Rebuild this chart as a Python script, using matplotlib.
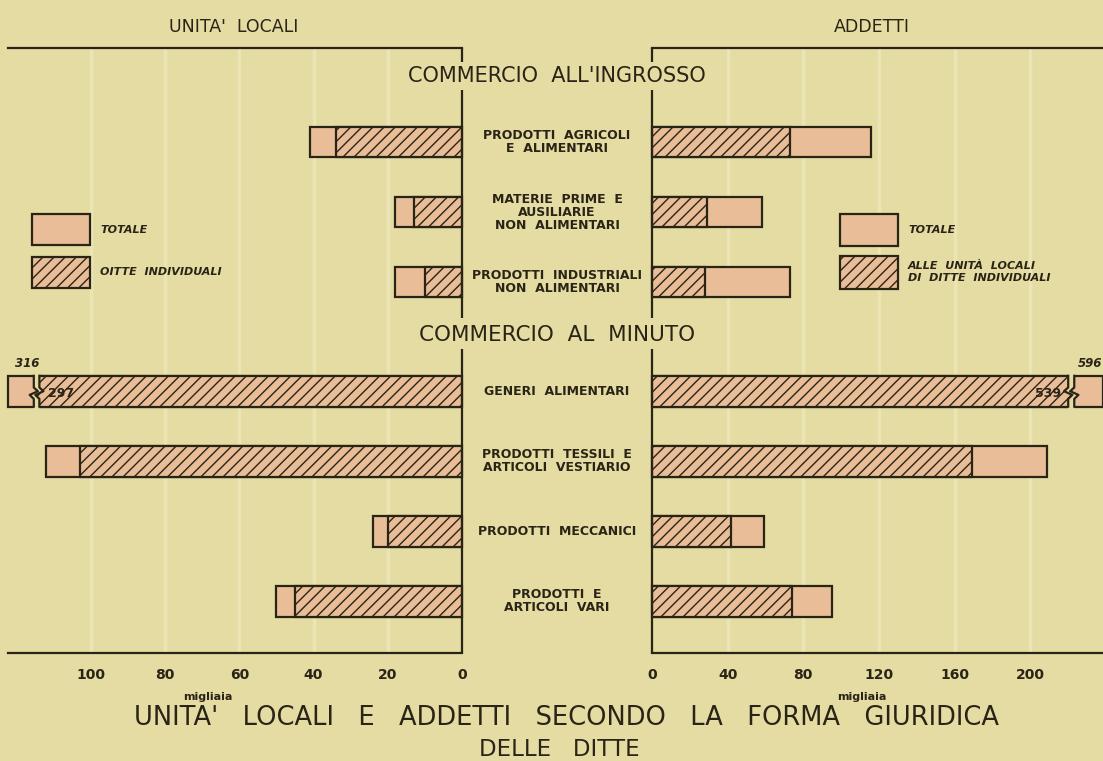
import matplotlib
matplotlib.use("Agg")
import matplotlib.pyplot as plt
import matplotlib.transforms as mtransforms
from matplotlib.patches import Rectangle, Polygon
import numpy as np

# ---------------- data ----------------
categories = [
    "PRODOTTI  AGRICOLI\nE  ALIMENTARI",
    "MATERIE  PRIME  E\nAUSILIARIE\nNON  ALIMENTARI",
    "PRODOTTI  INDUSTRIALI\nNON  ALIMENTARI",
    "GENERI  ALIMENTARI",
    "PRODOTTI  TESSILI  E\nARTICOLI  VESTIARIO",
    "PRODOTTI  MECCANICI",
    "PRODOTTI  E\nARTICOLI  VARI",
]
section = [0, 0, 0, 1, 1, 1, 1]
section_titles = ["COMMERCIO  ALL'INGROSSO", "COMMERCIO  AL  MINUTO"]

# Unita' locali (migliaia)
ul_totale = [41, 18, 18, 316, 112, 24, 50]
ul_individuali = [34, 13, 10, 297, 103, 20, 45]
# Addetti (migliaia)
add_totale = [116, 58, 73, 596, 209, 59, 95]
add_individuali = [73, 29, 28, 539, 169, 42, 74]

ul_ticks = [0, 20, 40, 60, 80, 100]
add_ticks = [0, 40, 80, 120, 160, 200]

# ---------------- style ----------------
BG = "#e4dca3"
FILL = "#e8bd97"
INK = "#2a2416"
LW = 1.6
plt.rcParams["hatch.linewidth"] = 1.0
plt.rcParams["hatch.color"] = INK
plt.rcParams["font.family"] = ["DejaVu Sans"]

W, H = 1103, 761
fig = plt.figure(figsize=(W / 100, H / 100), dpi=100, facecolor=BG)


def fx(px):
    return px / W


def fy(py):
    return 1 - py / H


TOP, BOT = 48, 653
axL = fig.add_axes([fx(8), fy(BOT), fx(462 - 8), (BOT - TOP) / H])
axR = fig.add_axes([fx(652), fy(BOT), fx(1103 - 652), (BOT - TOP) / H])

XMAX_L, XMAX_R = 122.3, 238.5
axL.set_xlim(XMAX_L, 0)
axR.set_xlim(0, XMAX_R)

ypos = np.arange(len(categories)) + 0.56 * np.array(section)
bar_h = 0.44
YTOP, YBOT = -1.343, 7.30


def yd(px):  # pixel row -> data y (layout helper)
    return (px - 142) / 70.0


for ax, ticks, xmax in ((axL, ul_ticks, XMAX_L), (axR, add_ticks, XMAX_R)):
    ax.set_facecolor("none")
    ax.set_ylim(YBOT, YTOP)
    ax.set_yticks([])
    ax.set_xticks(ticks)
    ax.set_xticklabels([str(t) for t in ticks], fontsize=10, fontweight="bold", color=INK)
    ax.tick_params(axis="x", length=0, pad=11)
    for s in ("left", "right"):
        ax.spines[s].set_visible(False)
    for s in ("top", "bottom"):
        ax.spines[s].set_color(INK)
        ax.spines[s].set_linewidth(LW)
    for t in ticks[1:]:
        ax.axvline(t, color="#ebe5b6", lw=2.5, zorder=0)
    # zero line with gaps for the section titles
    for y0, y1 in ((YTOP, yd(62)), (yd(90), yd(318)), (yd(349), YBOT)):
        ax.plot([0, 0], [y0, y1], color=INK, lw=LW, solid_capstyle="butt", clip_on=False, zorder=5)


def draw_side(ax, totals, indiv, xmax, brk, gap, amp):
    for y, tv, iv in zip(ypos, totals, indiv):
        broken = tv > xmax
        tw = min(tv, xmax)
        ax.barh(y, tw, height=bar_h, color=FILL, edgecolor=INK, linewidth=LW,
                clip_on=False, zorder=2)
        iw = brk if broken else iv
        ax.barh(y, iw, height=bar_h, color=FILL, edgecolor=INK, linewidth=LW,
                hatch="///", zorder=3)
        if broken:
            fr = np.array([-0.5, -0.12, 0.0, 0.12, 0.25, 0.5])
            off = amp * np.array([0, 0, -1, 1, 0, 0])
            yy = y + bar_h * fr
            xa = brk - gap / 2 + off
            xb = brk + gap / 2 + off
            ext = 0.04
            poly_x = np.concatenate([[xa[0]], xa, [xa[-1], xb[-1]], xb[::-1], [xb[0]]])
            poly_y = np.concatenate([[yy[0] - ext], yy, [yy[-1] + ext, yy[-1] + ext], yy[::-1], [yy[0] - ext]])
            ax.add_patch(Polygon(np.column_stack([poly_x, poly_y]), closed=True,
                                 facecolor=BG, edgecolor="none", zorder=4))
            ax.plot(xa, yy, color=INK, lw=LW, zorder=5)
            ax.plot(xb, yy, color=INK, lw=LW, zorder=5)


draw_side(axL, ul_totale, ul_individuali, XMAX_L, brk=114.6, gap=1.5, amp=1.1)
draw_side(axR, add_totale, add_individuali, XMAX_R, brk=221.7, gap=3.2, amp=2.2)

# values on broken bars
gi = 3
axL.text(120.5, ypos[gi] - bar_h / 2 - 0.08, str(ul_totale[gi]), ha="left", va="bottom",
         fontsize=8.5, fontweight="bold", fontstyle="italic", color=INK)
axL.text(111.5, ypos[gi] + 0.03, str(ul_individuali[gi]), ha="left", va="center",
         fontsize=9, fontweight="bold", color=INK, zorder=6)
axR.text(238.2, ypos[gi] - bar_h / 2 - 0.08, str(add_totale[gi]), ha="right", va="bottom",
         fontsize=8.5, fontweight="bold", fontstyle="italic", color=INK, clip_on=False)
axR.text(216.5, ypos[gi] + 0.03, str(add_individuali[gi]), ha="right", va="center",
         fontsize=9, fontweight="bold", color=INK, zorder=6)

# category labels in the centre
trans = mtransforms.blended_transform_factory(fig.transFigure, axL.transData)
for y, lab in zip(ypos, categories):
    fig.text(fx(557), y, lab, transform=trans, ha="center", va="center",
             fontsize=9, fontweight="bold", color=INK, linespacing=1.0)

# section titles
fig.text(fx(557), fy(76), section_titles[0], ha="center", va="center",
         fontsize=15, color=INK)
fig.text(fx(557), fy(335), section_titles[1], ha="center", va="center",
         fontsize=15.5, color=INK)

# panel headers
fig.text(fx(234), fy(27), "UNITA'  LOCALI", ha="center", va="center", fontsize=12.5, color=INK)
fig.text(fx(872), fy(27), "ADDETTI", ha="center", va="center", fontsize=12.5, color=INK)

# migliaia
fig.text(fx(208), fy(697), "migliaia", ha="center", va="center", fontsize=8, fontweight="bold", color=INK)
fig.text(fx(862), fy(697), "migliaia", ha="center", va="center", fontsize=8, fontweight="bold", color=INK)

# legends
def legend_box(x0, y0, x1, y1, hatch=None):
    fig.add_artist(Rectangle((fx(x0), fy(y1)), fx(x1 - x0), (y1 - y0) / H,
                             transform=fig.transFigure, facecolor=FILL, edgecolor=INK,
                             linewidth=LW, hatch=hatch))


legend_box(32, 214, 90, 245)
legend_box(32, 257, 90, 288, hatch="///")
fig.text(fx(100), fy(230), "TOTALE", ha="left", va="center", fontsize=8,
         fontweight="bold", fontstyle="italic", color=INK)
fig.text(fx(100), fy(272), "OITTE  INDIVIDUALI", ha="left", va="center", fontsize=8,
         fontweight="bold", fontstyle="italic", color=INK)

legend_box(840, 214, 898, 246)
legend_box(840, 256, 898, 289, hatch="///")
fig.text(fx(908), fy(230), "TOTALE", ha="left", va="center", fontsize=8,
         fontweight="bold", fontstyle="italic", color=INK)
fig.text(fx(908), fy(272), "ALLE  UNITÀ  LOCALI\nDI  DITTE  INDIVIDUALI", ha="left", va="center",
         fontsize=8, fontweight="bold", fontstyle="italic", color=INK, linespacing=1.2)

# title
fig.text(fx(566), fy(718), "UNITA'   LOCALI   E   ADDETTI   SECONDO   LA   FORMA   GIURIDICA",
         ha="center", va="center", fontsize=18.5, color=INK)
fig.text(fx(559), fy(750), "DELLE   DITTE", ha="center", va="center", fontsize=16.5, color=INK)

fig.savefig("out.png", dpi=100, facecolor=BG)
